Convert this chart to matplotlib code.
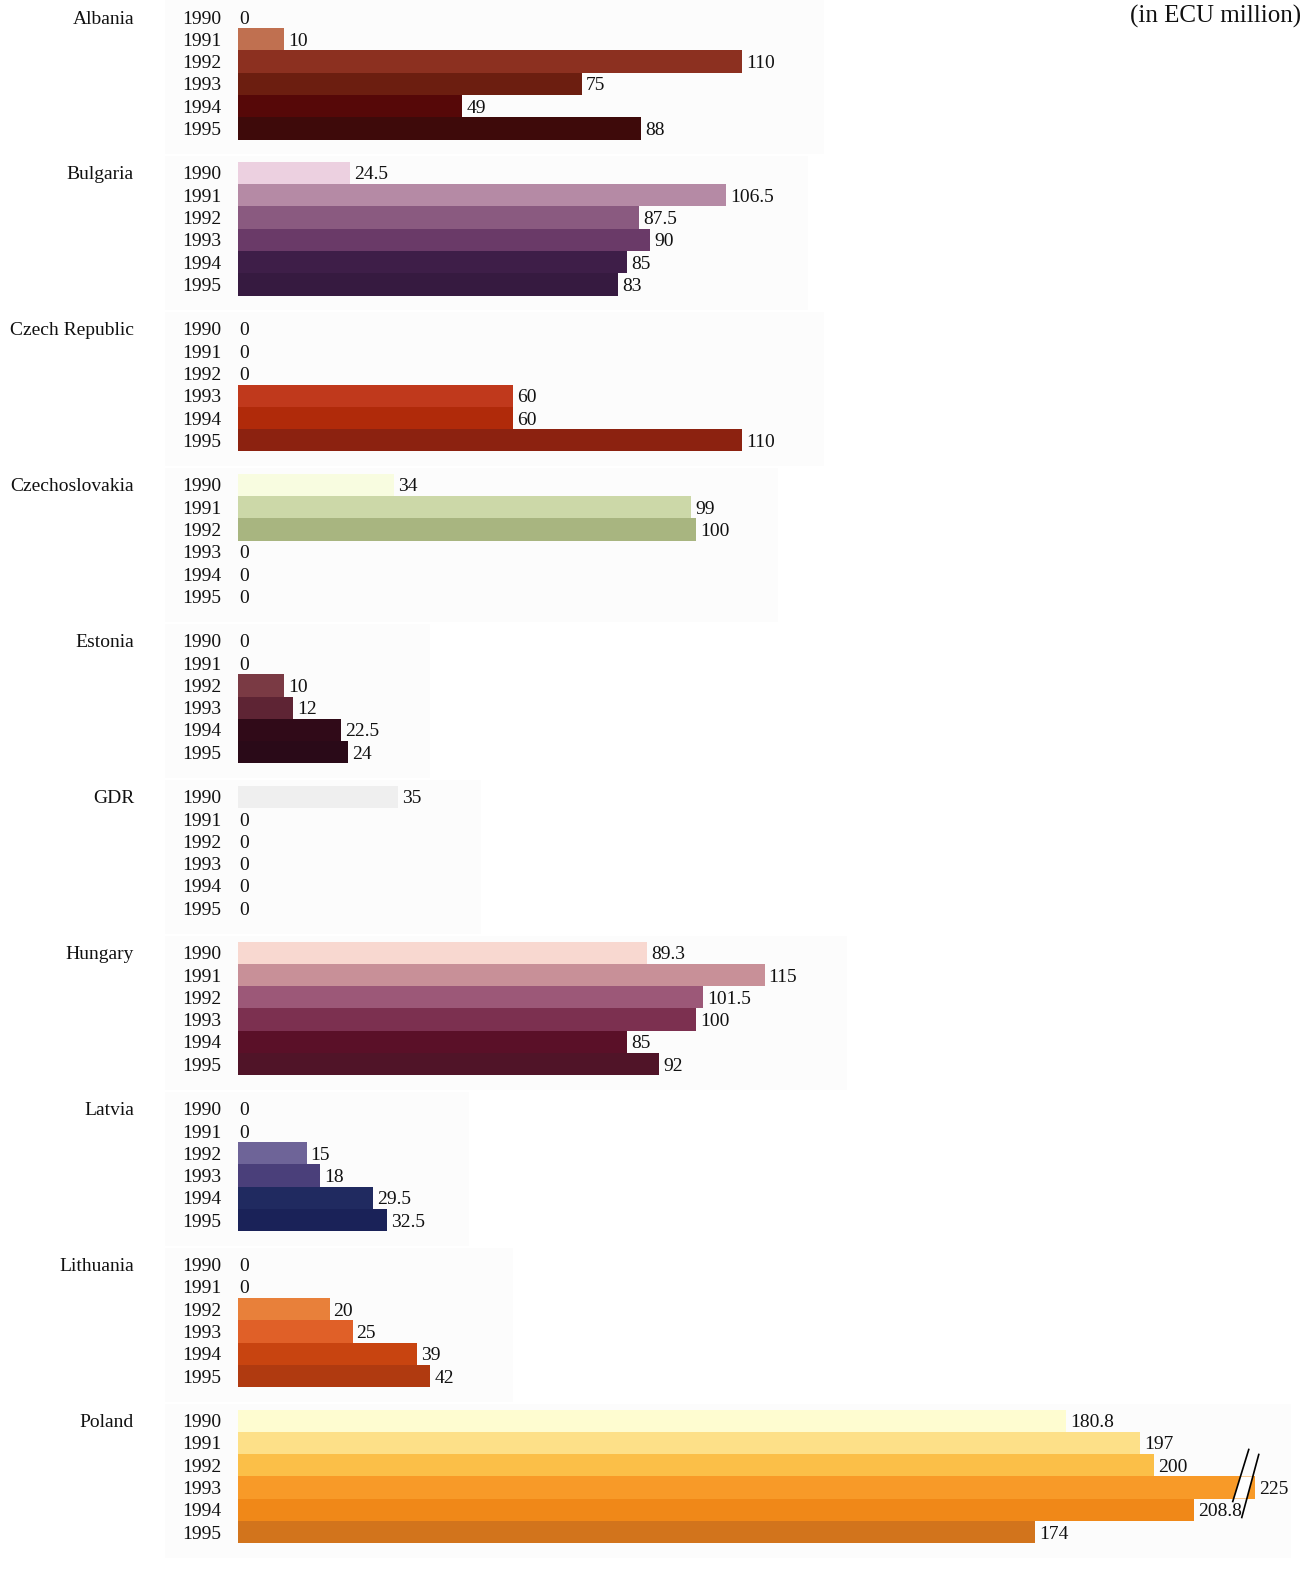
import numpy as np
import matplotlib
matplotlib.use("Agg")
import matplotlib.pyplot as plt
from matplotlib.patches import Polygon, Rectangle
from matplotlib.lines import Line2D

# EC grant commitments by country and year (ECU million)
countries = ["Albania", "Bulgaria", "Czech Republic", "Czechoslovakia", "Estonia",
             "GDR", "Hungary", "Latvia", "Lithuania", "Poland"]
years = ["1990", "1991", "1992", "1993", "1994", "1995"]

albania = [0, 10, 110, 75, 49, 88]
bulgaria = [24.5, 106.5, 87.5, 90, 85, 83]
czech_rep = [0, 0, 0, 60, 60, 110]
czechoslovakia = [34, 99, 100, 0, 0, 0]
estonia = [0, 0, 10, 12, 22.5, 24]
gdr = [35, 0, 0, 0, 0, 0]
hungary = [89.3, 115, 101.5, 100, 85, 92]
latvia = [0, 0, 15, 18, 29.5, 32.5]
lithuania = [0, 0, 20, 25, 39, 42]
poland = [180.8, 197, 200, 225, 208.8, 174]

values = [albania, bulgaria, czech_rep, czechoslovakia, estonia,
          gdr, hungary, latvia, lithuania, poland]

value_labels = [
    ["0", "10", "110", "75", "49", "88"],
    ["24.5", "106.5", "87.5", "90", "85", "83"],
    ["0", "0", "0", "60", "60", "110"],
    ["34", "99", "100", "0", "0", "0"],
    ["0", "0", "10", "12", "22.5", "24"],
    ["35", "0", "0", "0", "0", "0"],
    ["89.3", "115", "101.5", "100", "85", "92"],
    ["0", "0", "15", "18", "29.5", "32.5"],
    ["0", "0", "20", "25", "39", "42"],
    ["180.8", "197", "200", "225", "208.8", "174"],
]

colors = [
    ["#c07050", "#c07050", "#8c3020", "#6c1e10", "#560808", "#3e0a0a"],
    ["#ecd0e0", "#b58aa5", "#8a5a80", "#6a3a68", "#3e1e48", "#361a40"],
    ["#c0391c", "#c0391c", "#c0391c", "#c0391c", "#b02a0a", "#8c2210"],
    ["#f8fce0", "#ccd8a8", "#a8b580", "#a8b580", "#a8b580", "#a8b580"],
    ["#7a3a44", "#7a3a44", "#7a3a44", "#5e2434", "#300a18", "#2a0a18"],
    ["#efefef", "#efefef", "#efefef", "#efefef", "#efefef", "#efefef"],
    ["#f8d8d0", "#c89098", "#9c5878", "#7c3050", "#5a1028", "#501428"],
    ["#6e6498", "#6e6498", "#6e6498", "#4a3f7a", "#202a60", "#1a2258"],
    ["#e8803a", "#e8803a", "#e8803a", "#e06028", "#c84410", "#b03a10"],
    ["#fefcd0", "#fde088", "#fbbf48", "#f89a28", "#f08818", "#d2741c"],
]

W, H = 1303, 1569
PX_PER_UNIT = 4.58
X0 = 238          # left edge of the bars, pixels
ROW0, PITCH = 17, 22.28

# compressed x scale above 210 so the 1993 Poland bar fits
BRK, K = 210.0, 0.8


def fwd(x):
    x = np.asarray(x, dtype=float)
    return np.where(x <= BRK, x, BRK + (x - BRK) * K)


def inv(x):
    x = np.asarray(x, dtype=float)
    return np.where(x <= BRK, x, BRK + (x - BRK) / K)


plt.rcParams["font.family"] = ["Liberation Serif", "DejaVu Serif"]

fig = plt.figure(figsize=(W / 100, H / 100), dpi=100)
ax = fig.add_axes([0, 0, 1, 1])
ax.set_xscale("function", functions=(fwd, inv))
ax.set_xlim(-X0 / PX_PER_UNIT, float(inv((W - X0) / PX_PER_UNIT)))
ax.set_ylim((H - ROW0) / PITCH, -ROW0 / PITCH)
ax.axis("off")

for g, (name, vals, labs, cols) in enumerate(zip(countries, values, value_labels, colors)):
    rows = np.arange(6) + g * 7
    # faint panel behind each group
    right = max(max(vals) + 18, 38)
    ax.add_patch(Rectangle((-16, rows[0] - 0.75), min(right, 235) + 16, 6.9,
                           facecolor="#fcfcfc", edgecolor="none", zorder=0))
    ax.barh(rows, vals, height=1.0, left=0, color=cols, edgecolor="none", zorder=2)
    ax.annotate(name, (0, rows[0]), xytext=(-104, -2), textcoords="offset pixels",
                ha="right", va="center", fontsize=14, color="#111111")
    for r, v, lab, yr in zip(rows, vals, labs, years):
        ax.annotate(yr, (0, r), xytext=(-17, -2), textcoords="offset pixels",
                    ha="right", va="center", fontsize=14, color="#111111")
        dx = 4 if v > 0 else 1
        ax.annotate(lab, (v, r), xytext=(dx, -2), textcoords="offset pixels",
                    ha="left", va="center", fontsize=14, color="#111111", zorder=4)

# break marks on the Poland 1993 bar
fig.canvas.draw()
pr = 9 * 7 + 3
bx, by = ax.transData.transform((poland[3], pr))
gap = [(bx - 14.3, by + 11), (bx - 1.9, by + 11), (bx - 7.9, by - 11), (bx - 21.1, by - 11)]
fig.patches.append(Polygon(gap, closed=True, facecolor="white", edgecolor="none",
                           transform=None, zorder=5))
fig.lines.append(Line2D([bx - 6, bx - 22], [by + 38, by - 14], color="black",
                        linewidth=1.2, transform=None, zorder=6))
fig.lines.append(Line2D([bx + 4, bx - 13], [by + 33, by - 30], color="black",
                        linewidth=1.2, transform=None, zorder=6))

fig.text(1 - 2 / W, 1 - 16 / H, "(in ECU million)", ha="right", va="center",
         fontsize=18, color="#111111")

fig.savefig("out.png", dpi=100, facecolor="white")
